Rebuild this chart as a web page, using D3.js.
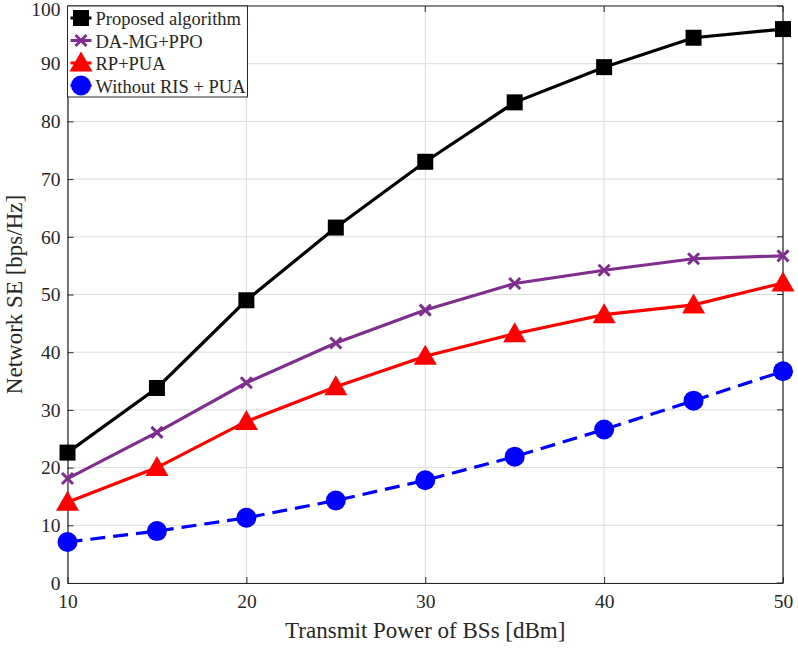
<!DOCTYPE html>
<html>
<head>
<meta charset="utf-8">
<script src="https://cdn.jsdelivr.net/npm/d3@7"></script>
<style>
  html, body { margin: 0; padding: 0; background: #fff; }
  svg text { font-family: "Liberation Serif", "Times New Roman", serif; fill: #262626; }
</style>
</head>
<body>
<svg id="chart" width="798" height="649"></svg>
<script>
// Transmit power (dBm) on the x axis
const power = [10, 15, 20, 25, 30, 35, 40, 45, 50];

// Network spectral efficiency per scheme [bps/Hz]
const proposed = [22.6, 33.8, 49.0, 61.6, 73.0, 83.3, 89.4, 94.5, 96.0];
const daMgPpo  = [18.1, 26.1, 34.7, 41.6, 47.3, 51.9, 54.2, 56.2, 56.7];
const rpPua    = [14.0, 20.0, 28.0, 34.0, 39.3, 43.2, 46.5, 48.2, 52.0];
const noRisPua = [7.1, 9.0, 11.3, 14.3, 17.8, 21.9, 26.6, 31.6, 36.7];

const xTicks = [10, 20, 30, 40, 50];
const yTicks = [0, 10, 20, 30, 40, 50, 60, 70, 80, 90, 100];

const seriesNames = ["Proposed algorithm", "DA-MG+PPO", "RP+PUA", "Without RIS + PUA"];
const seriesColors = ["#000000", "#7E2F8E", "#FF0000", "#0000FF"];
const seriesMarkers = ["square", "cross", "triangle", "circle"];

const series = [proposed, daMgPpo, rpPua, noRisPua].map((vals, i) => ({
  name: seriesNames[i], color: seriesColors[i], marker: seriesMarkers[i],
  dashed: i === 3,
  points: vals.map((v, j) => ({ x: power[j], y: v }))
}));

const svg = d3.select("#chart");
const plotL = 67.5, plotR = 783, plotT = 6, plotB = 583;

const x = d3.scaleLinear().domain([10, 50]).range([plotL, plotR]);
const y = d3.scaleLinear().domain([0, 100]).range([plotB, plotT]);

// Grid
const grid = svg.append("g");
grid.selectAll("line.gx").data(xTicks).join("line")
  .attr("x1", d => x(d)).attr("x2", d => x(d)).attr("y1", plotT).attr("y2", plotB)
  .attr("stroke", "#dcdcdc").attr("stroke-width", 1);
grid.selectAll("line.gy").data(yTicks).join("line")
  .attr("y1", d => y(d)).attr("y2", d => y(d)).attr("x1", plotL).attr("x2", plotR)
  .attr("stroke", "#dcdcdc").attr("stroke-width", 1);

// Axes
const xAxis = d3.axisBottom(x).tickValues(xTicks).tickSizeInner(-6).tickSizeOuter(0).tickPadding(11);
const yAxis = d3.axisLeft(y).tickValues(yTicks).tickSizeInner(-6).tickSizeOuter(0).tickPadding(7);

const gx = svg.append("g").attr("transform", `translate(0,${plotB})`).call(xAxis);
const gy = svg.append("g").attr("transform", `translate(${plotL},0)`).call(yAxis);
[gx, gy].forEach(g => {
  g.select(".domain").attr("stroke", "#262626").attr("stroke-width", 1.2);
  g.selectAll(".tick line").attr("stroke", "#262626");
  g.selectAll(".tick text").style("font-size", "19.5px").attr("fill", "#262626");
});
// keep the top label inside the canvas
gy.selectAll(".tick text").filter(d => d === 100).attr("dy", "0.38em").attr("y", 2);

// Top and right edges of the box with inward ticks
const box = svg.append("g");
box.append("line").attr("x1", plotL).attr("x2", plotR).attr("y1", plotT).attr("y2", plotT).attr("stroke", "#262626").attr("stroke-width", 1.2);
box.append("line").attr("x1", plotR).attr("x2", plotR).attr("y1", plotT).attr("y2", plotB).attr("stroke", "#262626").attr("stroke-width", 1.2);
box.selectAll("line.tt").data(xTicks).join("line")
  .attr("x1", d => x(d)).attr("x2", d => x(d)).attr("y1", plotT).attr("y2", plotT + 6).attr("stroke", "#262626");
box.selectAll("line.tr").data(yTicks).join("line")
  .attr("y1", d => y(d)).attr("y2", d => y(d)).attr("x1", plotR).attr("x2", plotR - 6).attr("stroke", "#262626");

// Axis labels
svg.append("text").attr("x", (plotL + plotR) / 2).attr("y", 638).attr("text-anchor", "middle")
  .style("font-size", "23px").text("Transmit Power of BSs [dBm]");
svg.append("text").attr("transform", `translate(22,${(plotT + plotB) / 2}) rotate(-90)`)
  .attr("text-anchor", "middle").style("font-size", "23px").text("Network SE [bps/Hz]");

// Marker drawing
function drawMarker(g, type, color, cx, cy) {
  if (type === "square") {
    g.append("rect").attr("x", cx - 8).attr("y", cy - 8).attr("width", 16).attr("height", 16).attr("fill", color);
  } else if (type === "cross") {
    const s = 5.5;
    g.append("path").attr("d", `M${cx - s},${cy - s}L${cx + s},${cy + s}M${cx - s},${cy + s}L${cx + s},${cy - s}`)
      .attr("stroke", color).attr("stroke-width", 3).attr("fill", "none");
  } else if (type === "triangle") {
    g.append("path").attr("d", `M${cx},${cy - 11.5}L${cx + 11.5},${cy + 8.5}L${cx - 11.5},${cy + 8.5}Z`).attr("fill", color);
  } else if (type === "circle") {
    g.append("circle").attr("cx", cx).attr("cy", cy).attr("r", 10).attr("fill", color);
  }
}

const line = d3.line().x(d => x(d.x)).y(d => y(d.y));

// Draw series back-to-front so the proposed curve ends up on top
series.slice().reverse().forEach(s => {
  const g = svg.append("g");
  g.append("path").datum(s.points).attr("d", line).attr("fill", "none")
    .attr("stroke", s.color).attr("stroke-width", 3.2)
    .attr("stroke-dasharray", s.dashed ? "15,8" : null);
  s.points.forEach(p => drawMarker(g, s.marker, s.color, x(p.x), y(p.y)));
});

// Legend
const lg = svg.append("g");
lg.append("rect").attr("x", plotL).attr("y", plotT).attr("width", 180).attr("height", 91)
  .attr("fill", "#fff").attr("stroke", "#262626").attr("stroke-width", 1);
series.forEach((s, i) => {
  const ly = plotT + 12 + i * 22.5;
  lg.append("line").attr("x1", plotL + 3).attr("x2", plotL + 24).attr("y1", ly).attr("y2", ly)
    .attr("stroke", s.color).attr("stroke-width", 3);
  drawMarker(lg, s.marker, s.color, plotL + 13.5, ly);
  lg.append("text").attr("x", plotL + 28).attr("y", ly + 7).style("font-size", "18.5px").attr("fill", "#000").text(s.name);
});
</script>
</body>
</html>
